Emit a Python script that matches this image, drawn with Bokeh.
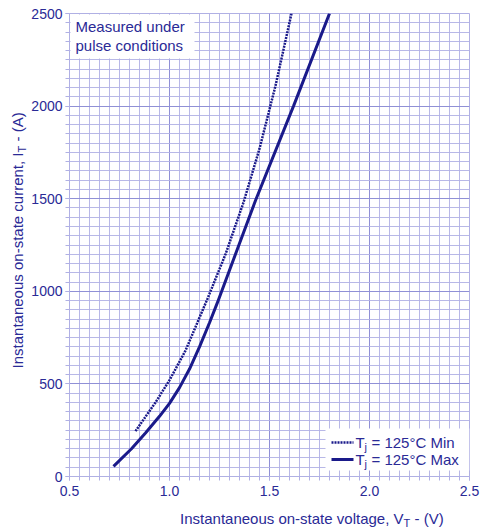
import math
from bokeh.plotting import figure
from bokeh.layouts import row, column
from bokeh.models import (Range1d, SingleIntervalTicker, Label, BoxAnnotation, Arrow)
from bokeh.embed import file_html
from bokeh.resources import INLINE

# ---- data ----
v_min = [0.83, 0.93, 1.00, 1.08, 1.19, 1.28, 1.37, 1.45, 1.53, 1.61]
i_min = [245, 400, 520, 680, 960, 1200, 1480, 1770, 2110, 2500]

v_max = [0.72, 0.81, 0.88, 0.95, 1.00, 1.05, 1.10, 1.15, 1.20, 1.24, 1.43, 1.62, 1.80]
i_max = [55, 150, 235, 325, 395, 480, 580, 700, 830, 940, 1490, 2000, 2500]

x_ticks = [0.5, 1.0, 1.5, 2.0, 2.5]
y_ticks = [0, 500, 1000, 1500, 2000, 2500]

FONT = "Liberation Sans"
TXT = "#2a2a96"
CURVE = "#1a1a8a"
GRID = "#b0b0e4"
GRID_MAJ = "#8c8cd4"
DOT = "2 1"

W_YLAB = 28
H_XLAB = 29
W = 483
H = 531


def blank(width, height):
    f = figure(width=width, height=height, output_backend="svg", toolbar_location=None,
               x_axis_location=None, y_axis_location=None,
               x_range=Range1d(0, 1), y_range=Range1d(0, 1),
               min_border_left=0, min_border_right=0, min_border_top=0, min_border_bottom=0)
    f.outline_line_color = None
    f.grid.visible = False
    f.background_fill_color = "white"
    f.border_fill_color = "white"
    return f


p = figure(width=W - W_YLAB, height=H - H_XLAB, output_backend="svg", toolbar_location=None,
           x_range=Range1d(0.5, 2.5), y_range=Range1d(0, 2500),
           min_border_left=67 - W_YLAB, min_border_right=14, min_border_top=13, min_border_bottom=26)
p.background_fill_color = "white"
p.border_fill_color = "white"
p.outline_line_color = GRID

p.xaxis.ticker = SingleIntervalTicker(interval=0.5, num_minor_ticks=10)
p.yaxis.ticker = SingleIntervalTicker(interval=500, num_minor_ticks=10)
p.xaxis.major_label_overrides = {t: f"{t:.1f}" for t in x_ticks}

for ax in (p.xaxis[0], p.yaxis[0]):
    ax.axis_line_color = GRID
    ax.major_tick_line_color = GRID
    ax.minor_tick_line_color = GRID
    ax.major_tick_out = 4
    ax.major_tick_in = 0
    ax.minor_tick_out = 4
    ax.minor_tick_in = 0
    ax.major_label_text_font = FONT
    ax.major_label_text_font_size = "14px"
    ax.major_label_text_color = TXT
p.yaxis.major_label_standoff = 3
p.xaxis.major_label_standoff = 5

for g in (p.xgrid[0], p.ygrid[0]):
    g.grid_line_color = GRID_MAJ
    g.grid_line_alpha = 0.9
    g.minor_grid_line_color = GRID
    g.minor_grid_line_alpha = 0.9

# curves
p.line(v_min, i_min, line_color=CURVE, line_width=2.5, line_dash=DOT)
p.line(v_max, i_max, line_color=CURVE, line_width=3)

# top-left note
p.add_layout(BoxAnnotation(left=1, right=125, bottom=418, top=462,
                           left_units="screen", right_units="screen",
                           bottom_units="screen", top_units="screen",
                           fill_color="white", fill_alpha=1, line_color=None))
for txt, y in (("Measured under", 450), ("pulse conditions", 431)):
    p.add_layout(Label(x=6, y=y, x_units="screen", y_units="screen", text=txt,
                       text_font=FONT, text_font_size="15px", text_color=TXT,
                       text_baseline="middle", text_align="left"))

# legend
p.add_layout(BoxAnnotation(left=256, right=400, bottom=6, top=48,
                           left_units="screen", right_units="screen",
                           bottom_units="screen", top_units="screen",
                           fill_color="white", fill_alpha=1, line_color=None))
for y, dash, lw, tail in ((34, DOT, 2.5, "= 125°C Min"), (17, "solid", 3, "= 125°C Max")):
    p.add_layout(Arrow(x_start=262, y_start=y, x_end=284, y_end=y,
                       start_units="screen", end_units="screen", end=None,
                       line_color=CURVE, line_width=lw, line_dash=dash))
    p.add_layout(Label(x=286, y=y, x_units="screen", y_units="screen", text="T",
                       text_font=FONT, text_font_size="15px", text_color=TXT,
                       text_baseline="middle", text_align="left"))
    p.add_layout(Label(x=295, y=y - 4, x_units="screen", y_units="screen", text="j",
                       text_font=FONT, text_font_size="11px", text_color=TXT,
                       text_baseline="middle", text_align="left"))
    p.add_layout(Label(x=302, y=y, x_units="screen", y_units="screen", text=tail,
                       text_font=FONT, text_font_size="15px", text_color=TXT,
                       text_baseline="middle", text_align="left"))

# x axis label (own strip below the chart)
xl = blank(W - W_YLAB, H_XLAB)
xv = 362 - W_YLAB
xl.add_layout(Label(x=xv, y=13, x_units="screen", y_units="screen",
                    text="Instantaneous on-state voltage, V",
                    text_font=FONT, text_font_size="15px", text_color=TXT,
                    text_baseline="middle", text_align="right"))
xl.add_layout(Label(x=xv, y=9, x_units="screen", y_units="screen", text="T",
                    text_font=FONT, text_font_size="11px", text_color=TXT,
                    text_baseline="middle", text_align="left"))
xl.add_layout(Label(x=xv + 11, y=13, x_units="screen", y_units="screen", text="- (V)",
                    text_font=FONT, text_font_size="15px", text_color=TXT,
                    text_baseline="middle", text_align="left"))

# y axis label (own strip left of the chart)
yl = blank(W_YLAB, H)
yc = 17
yv = 379
yl.add_layout(Label(x=yc, y=yv, x_units="screen", y_units="screen",
                    text="Instantaneous on-state current, I", angle=math.pi / 2,
                    text_font=FONT, text_font_size="15px", text_color=TXT,
                    text_baseline="middle", text_align="right"))
yl.add_layout(Label(x=yc + 4, y=yv, x_units="screen", y_units="screen", text="T",
                    angle=math.pi / 2,
                    text_font=FONT, text_font_size="11px", text_color=TXT,
                    text_baseline="middle", text_align="left"))
yl.add_layout(Label(x=yc, y=yv + 11, x_units="screen", y_units="screen", text="- (A)",
                    angle=math.pi / 2,
                    text_font=FONT, text_font_size="15px", text_color=TXT,
                    text_baseline="middle", text_align="left"))

layout = row(yl, column(p, xl, spacing=0), spacing=0)

open("out.html", "w").write(file_html(layout, INLINE))
